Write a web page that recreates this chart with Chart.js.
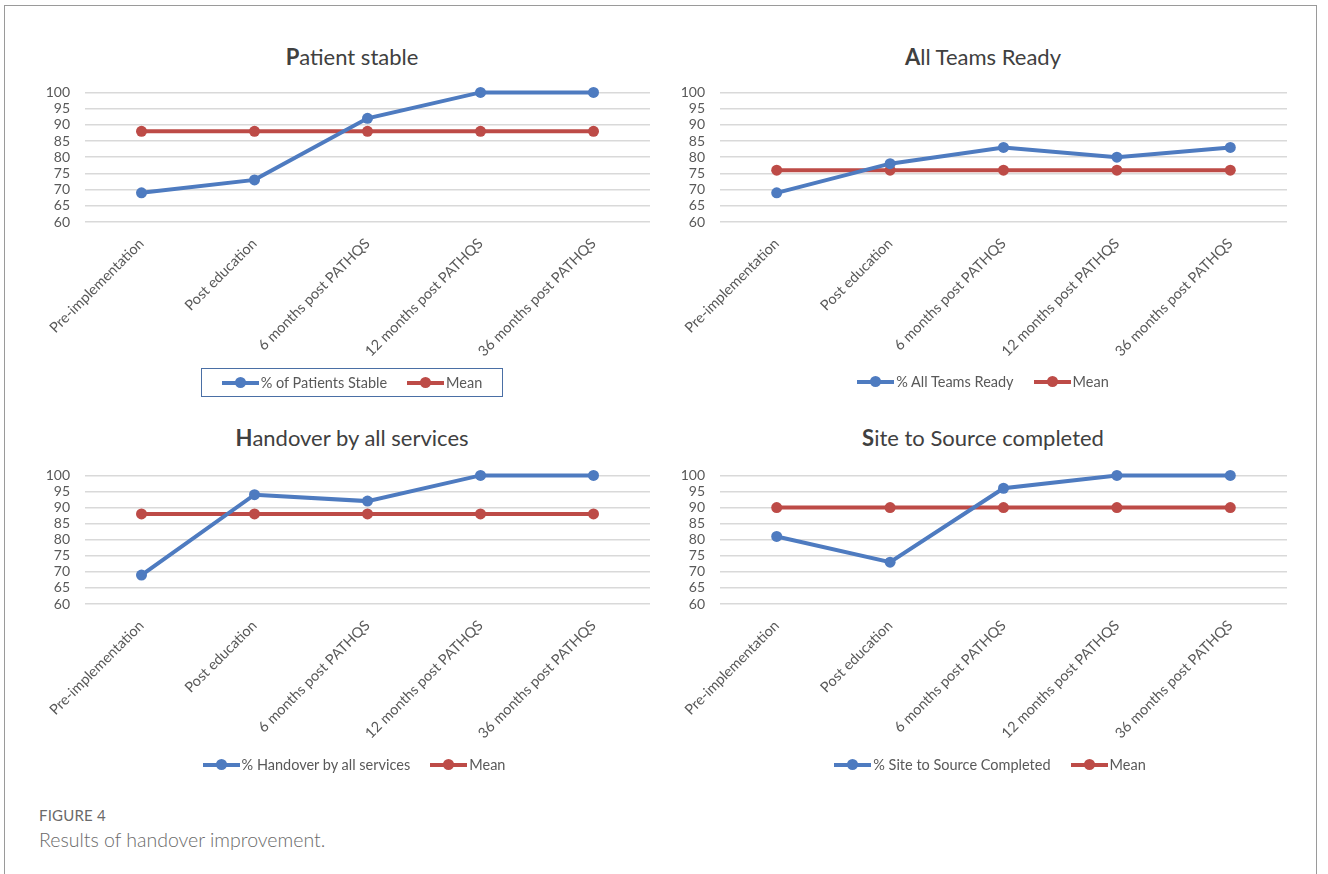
<!DOCTYPE html>
<html>
<head>
<meta charset="utf-8">
<script src="https://cdn.jsdelivr.net/npm/chart.js@4.4.1/dist/chart.umd.min.js"></script>
<style>
    body { margin: 0; background: #fff; width: 1328px; height: 874px; overflow: hidden; position: relative; font-family: Lato, "Noto Sans", sans-serif; }
    #frame { position: absolute; left: 4px; top: 5px; width: 1313px; height: 900px; border: 1px solid #9a9a9a; box-sizing: border-box; }
    .chart-title { position: absolute; width: 664px; text-align: center; font-size: 22px; color: #404040; }
    .chart-title b { font-weight: 700; }
    canvas { position: absolute; }
    .legend { position: absolute; width: 664px; display: flex; justify-content: center; }
    .legend-inner { display: flex; align-items: center; gap: 20px; font-size: 14.5px; color: #595959; padding: 5px 20px; }
    .legend-inner.boxed { border: 1.5px solid #4a6fa5; }
    .legend-item { display: flex; align-items: center; }
    .swatch { position: relative; width: 37px; height: 12px; margin-right: 2px; }
    .swatch:before { content: ''; position: absolute; left: 0; right: 0; top: 4px; height: 4px; }
    .swatch:after { content: ''; position: absolute; left: 13px; top: 0.5px; width: 11px; height: 11px; border-radius: 50%; }
    .blue:before, .blue:after { background: #4e7bc0; }
    .red:before, .red:after { background: #bd4b47; }
    #caption1 { position: absolute; left: 39px; top: 806px; font-size: 15px; color: #6a6a6a; letter-spacing: 0.2px; }
    #caption2 { position: absolute; left: 39px; top: 828px; font-size: 19.5px; font-weight: 300; color: #6a6a6a; }
</style>
</head>
<body>
<div id="frame"></div>

<div class="chart-title" style="left:20px; top:43px;"><b>P</b>atient stable</div>
<div class="chart-title" style="left:651px; top:43px;"><b>A</b>ll Teams Ready</div>
<div class="chart-title" style="left:20px; top:424px;"><b>H</b>andover by all services</div>
<div class="chart-title" style="left:651px; top:424px;"><b>S</b>ite to Source completed</div>

<canvas id="c1" width="664" height="303" style="left:20px; top:69px;"></canvas>
<canvas id="c2" width="664" height="303" style="left:655px; top:69px;"></canvas>
<canvas id="c3" width="664" height="302" style="left:20px; top:452px;"></canvas>
<canvas id="c4" width="664" height="302" style="left:655px; top:452px;"></canvas>

<div class="legend" id="lg1" style="left:20px; top:368px;"></div>
<div class="legend" id="lg2" style="left:651px; top:368px;"></div>
<div class="legend" id="lg3" style="left:22px; top:751px;"></div>
<div class="legend" id="lg4" style="left:658px; top:751px;"></div>

<div id="caption1">FIGURE 4</div>
<div id="caption2">Results of handover improvement.</div>

<script>
// categories along the x axis
const categories = ['Pre-implementation', 'Post education', '6 months post PATHQS', '12 months post PATHQS', '36 months post PATHQS'];
const yTicks = [60, 65, 70, 75, 80, 85, 90, 95, 100];

// series values
const patientsStable = [69, 73, 92, 100, 100];
const patientsStableMean = [88, 88, 88, 88, 88];
const teamsReady = [69, 78, 83, 80, 83];
const teamsReadyMean = [76, 76, 76, 76, 76];
const handover = [69, 94, 92, 100, 100];
const handoverMean = [88, 88, 88, 88, 88];
const siteToSource = [81, 73, 96, 100, 100];
const siteToSourceMean = [90, 90, 90, 90, 90];

const BLUE = '#4e7bc0';
const RED = '#bd4b47';
const FONT = 'Lato, "Noto Sans", sans-serif';

function buildChart(canvasId, legendId, seriesLabel, values, mean, padRight, boxed) {
    const ctx = document.getElementById(canvasId).getContext('2d');
    const lineStyle = color => ({
        borderColor: color,
        backgroundColor: color,
        borderWidth: 4,
        pointRadius: 5.5,
        pointBorderWidth: 0,
        pointHoverRadius: 5.5,
        tension: 0,
        clip: false // keep the markers at 100 whole
    });
    new Chart(ctx, {
        type: 'line',
        data: {
            labels: categories,
            datasets: [
                { label: seriesLabel, data: values, ...lineStyle(BLUE) },
                { label: 'Mean', data: mean, ...lineStyle(RED) }
            ]
        },
        options: {
            responsive: false,
            animation: false,
            layout: { padding: { top: 0, right: padRight, bottom: 0, left: 0 } },
            plugins: {
                legend: { display: false },
                title: { display: false },
                tooltip: { enabled: false }
            },
            scales: {
                x: {
                    offset: true,
                    grid: { display: false, drawTicks: false },
                    border: { display: false },
                    ticks: {
                        color: '#595959',
                        font: { family: FONT, size: 14.5 },
                        minRotation: 45,
                        maxRotation: 45,
                        autoSkip: false,
                        padding: 13
                    },
                    afterFit: scale => { scale.height = 150; }
                },
                y: {
                    min: 60,
                    max: 100,
                    afterBuildTicks: scale => { scale.ticks = yTicks.map(v => ({ value: v })); },
                    grid: { color: '#d9d9d9', lineWidth: 1.5, drawTicks: false },
                    border: { display: false },
                    ticks: {
                        color: '#595959',
                        font: { family: FONT, size: 14 },
                        padding: 15,
                        autoSkip: false
                    },
                    afterFit: scale => { scale.width = 65; }
                }
            }
        }
    });

    // legend built from the same dataset labels
    const legend = document.getElementById(legendId);
    const inner = document.createElement('div');
    inner.className = 'legend-inner' + (boxed ? ' boxed' : '');
    inner.innerHTML = `
        <div class="legend-item"><span class="swatch blue"></span>${seriesLabel}</div>
        <div class="legend-item"><span class="swatch red"></span>Mean</div>
    `;
    legend.appendChild(inner);
}

buildChart('c1', 'lg1', '% of Patients Stable', patientsStable, patientsStableMean, 34, true);
buildChart('c2', 'lg2', '% All Teams Ready', teamsReady, teamsReadyMean, 32, false);
buildChart('c3', 'lg3', '% Handover by all services', handover, handoverMean, 34, false);
buildChart('c4', 'lg4', '% Site to Source Completed', siteToSource, siteToSourceMean, 32, false);
</script>
</body>
</html>
